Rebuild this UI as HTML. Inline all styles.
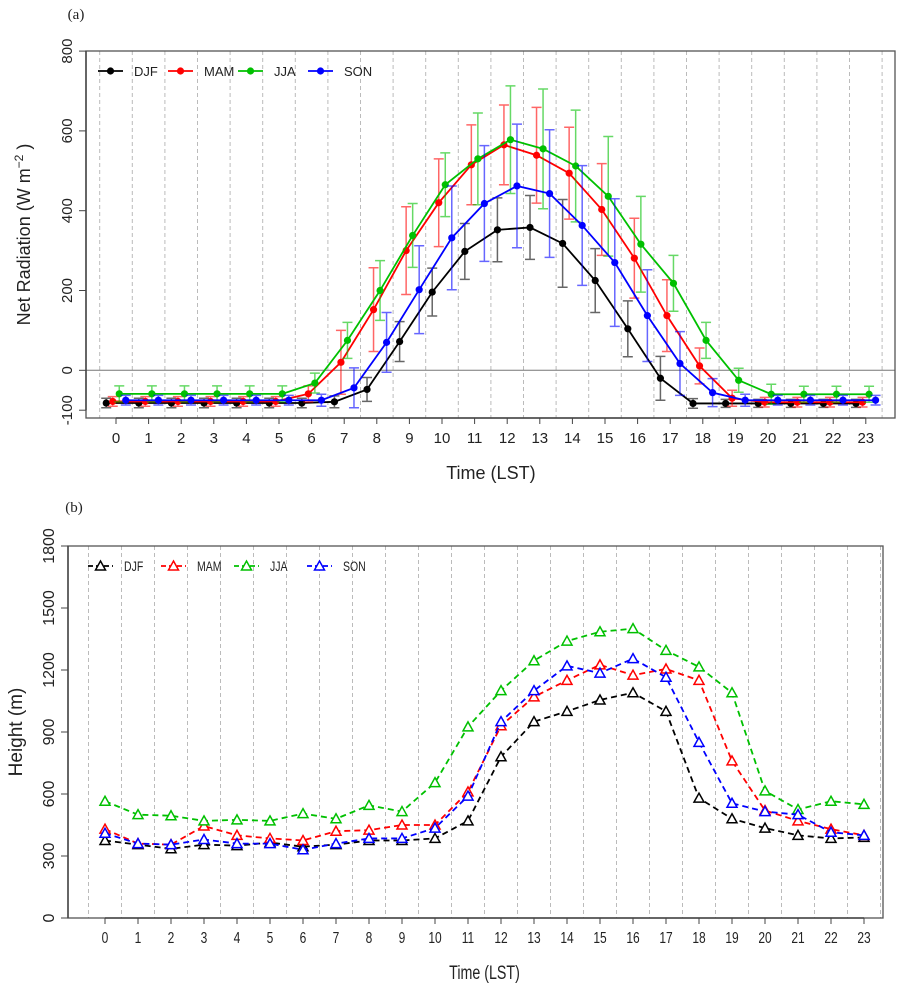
<!DOCTYPE html>
<html><head><meta charset="utf-8"><style>
body{margin:0;background:#fff;}
svg{display:block;font-family:"Liberation Sans",sans-serif;}
</style></head><body>
<svg id="c" width="906" height="993"></svg>
<script>
const hours=[0,1,2,3,4,5,6,7,8,9,10,11,12,13,14,15,16,17,18,19,20,21,22,23];
const seasons=["DJF","MAM","JJA","SON"];
const colors=["#000000","#ff0000","#00c000","#0000ff"];
const yTicksA=[-100,0,200,400,600,800];
const yTicksB=[0,300,600,900,1200,1500,1800];
const netDJF=[-82,-82,-82,-82,-82,-82,-82,-79,-48,72,196,298,352,358,318,225,104,-20,-83,-83,-83,-83,-83,-83];
const netMAM=[-78,-78,-78,-78,-78,-78,-59,20,152,300,420,515,565,539,494,403,281,137,11,-70,-80,-80,-80,-80];
const netJJA=[-59,-59,-59,-59,-59,-59,-32,75,200,338,465,530,578,555,512,436,316,218,75,-25,-60,-60,-60,-60];
const netSON=[-75,-75,-75,-75,-75,-75,-75,-44,70,202,332,418,462,443,363,270,137,17,-56,-75,-75,-75,-75,-75];
const errDJF=[12,12,12,12,12,12,12,15,30,50,60,70,80,80,110,80,70,55,12,10,10,10,10,10];
const errMAM=[12,12,12,12,12,12,20,80,105,110,110,100,100,120,115,115,100,90,45,20,12,12,12,12];
const errJJA=[20,20,20,20,20,20,25,45,75,80,80,115,135,150,140,150,120,70,45,30,25,20,20,20];
const errSON=[12,12,12,12,12,12,15,50,75,110,130,145,155,160,150,160,115,80,35,15,12,12,12,12];
const hDJF=[375,355,335,355,350,365,345,355,375,375,385,470,780,950,1000,1055,1090,1000,580,480,435,400,385,390];
const hMAM=[430,360,355,445,400,385,375,420,425,450,450,610,930,1070,1150,1225,1175,1205,1150,760,520,470,430,400];
const hJJA=[565,500,495,470,475,470,505,480,545,515,655,925,1100,1245,1340,1385,1400,1295,1215,1090,615,525,565,550];
const hSON=[410,360,355,380,360,360,330,360,385,385,435,590,950,1100,1220,1185,1255,1165,850,555,515,500,415,400];

const NS="http://www.w3.org/2000/svg";
const svg=document.getElementById('c');
function mk(tag,attrs,parent){const e=document.createElementNS(NS,tag);for(const k in attrs)e.setAttribute(k,attrs[k]);(parent||svg).appendChild(e);return e;}
function txt(s,x,y,size,parent,sx,rot,extra){
  let tr=`translate(${x},${y})`;if(rot)tr+=` rotate(${rot})`;if(sx&&sx!==1)tr+=` scale(${sx},1)`;
  const t=mk('text',Object.assign({x:0,y:0,'font-size':size,'text-anchor':'middle',fill:'#222',transform:tr},extra||{}),parent);t.textContent=s;return t;}

function panel(cfg){
  const g=mk('g',{});
  
  
  const X=h=>cfg.x0+h*cfg.dx;
  const Y=v=>cfg.yZero-(v-cfg.yMin)*cfg.ky;
  for(let i=0;i<=24;i++){const gx=X(i-0.5);const l=mk('line',{x1:gx,x2:gx,y1:cfg.top,y2:cfg.bot,stroke:'#bbb','stroke-dasharray':'4,3','stroke-width':1},g);
    }
  if(cfg.zeroLine){const z=mk('line',{x1:cfg.left,x2:cfg.right,y1:Y(0),y2:Y(0),stroke:'#777','stroke-width':1},g);
    }
  const b=mk('rect',{x:cfg.left,y:cfg.top,width:cfg.right-cfg.left,height:cfg.bot-cfg.top,fill:'none',stroke:'#555','stroke-width':1.3},g);
  
  cfg.yTicks.forEach(v=>{const y=Y(v);mk('line',{x1:cfg.left-7,x2:cfg.left,y1:y,y2:y,stroke:'#444'},g);
    const t=txt(String(v),cfg.left-14,y,cfg.tickSize,g,1,-90);
    });
  mk('line',{x1:cfg.left,x2:cfg.left,y1:Y(cfg.yTicks[0]),y2:Y(cfg.yTicks[cfg.yTicks.length-1]),stroke:'#444','stroke-width':1.5},g);
  mk('line',{x1:X(0),x2:X(23),y1:cfg.bot,y2:cfg.bot,stroke:'#444','stroke-width':1.5},g);
  hours.forEach(h=>{mk('line',{x1:X(h),x2:X(h),y1:cfg.bot,y2:cfg.bot+6,stroke:'#444'},g);
    const t=txt(String(h),X(h),cfg.bot+25,cfg.tickSize,g,cfg.sx);
    });
  const xt=txt('Time (LST)',(cfg.x0+X(23))/2,cfg.bot+61,cfg.titleSize,g,cfg.sx);
  
  const yt=mk('text',{transform:`translate(${cfg.yTitleX},${(cfg.top+cfg.bot)/2}) rotate(-90)`,'font-size':cfg.titleSize,'text-anchor':'middle',fill:'#222'},g);
  yt.innerHTML=cfg.yTitle;
  
  const pl=txt(cfg.label,cfg.labelX,cfg.labelY,15,g,1,0,{'font-family':'Liberation Serif, serif'});
  
  cfg.series.forEach((vals,si)=>{
    const sg=mk('g',{},g);
    
    
    const off=cfg.offsets[si];
    if(cfg.errs){cfg.errs[si].forEach((e,i)=>{const x=X(hours[i]+off);const y1=Y(vals[i]-e),y2=Y(vals[i]+e);
      const eb=mk('path',{d:`M${x},${y1}V${y2}M${x-5},${y1}H${x+5}M${x-5},${y2}H${x+5}`,stroke:colors[si],'stroke-opacity':0.6,'stroke-width':1.5,fill:'none'},sg);
      });}
    const d=vals.map((v,i)=>(i?'L':'M')+X(hours[i]+off)+','+Y(v)).join('');
    const ln=mk('path',{d:d,stroke:colors[si],'stroke-width':1.8,fill:'none','stroke-dasharray':cfg.dash?'6,4':'none'},sg);
    
    vals.forEach((v,i)=>{const x=X(hours[i]+off),y=Y(v);let m;
      if(cfg.dash){m=mk('path',{d:`M${x},${y-5}L${x+5},${y+4}L${x-5},${y+4}Z`,fill:'#fff',stroke:colors[si],'stroke-width':1.5},sg);}
      else{m=mk('circle',{cx:x,cy:y,r:3.6,fill:colors[si]},sg);}
      });
  });
  const lg=mk('g',{},g);
  
  seasons.forEach((s,si)=>{const lx=cfg.legX+si*cfg.legStep,ly=cfg.legY;
    const e=mk('g',{},lg);
    
    mk('line',{x1:lx,x2:lx+25,y1:ly,y2:ly,stroke:colors[si],'stroke-width':1.8,'stroke-dasharray':cfg.dash?'5,3':'none'},e);
    if(cfg.dash)mk('path',{d:`M${lx+12.5},${ly-5}L${lx+17.5},${ly+4}L${lx+7.5},${ly+4}Z`,fill:'#fff',stroke:colors[si],'stroke-width':1.5},e);
    else mk('circle',{cx:lx+12.5,cy:ly,r:3.6,fill:colors[si]},e);
    txt(s,lx+36,ly+5,cfg.legSize,e,cfg.sx,0,{'text-anchor':'start'});});
}
panel({name:'net-radiation-chart',x0:116,dx:32.6,left:86,right:895,top:51,bot:418,yZero:370.3,yMin:0,ky:0.399,
  yTicks:yTicksA,tickSize:15,titleSize:18,sx:1,zeroLine:true,yTitleX:30,yTitle:'Net Radiation (W m<tspan dy="-7" font-size="12">\u22122</tspan><tspan dy="7"> )</tspan>',
  label:'(a)',labelX:76,labelY:19,series:[netDJF,netMAM,netJJA,netSON],errs:[errDJF,errMAM,errJJA,errSON],
  offsets:[-0.3,-0.1,0.1,0.3],dash:false,legX:98,legY:71,legStep:70,legSize:13});
panel({name:'height-chart',x0:105,dx:33,left:68,right:883,top:546,bot:918,yZero:918,yMin:0,ky:372/1800,
  yTicks:yTicksB,tickSize:16,titleSize:19,sx:0.75,zeroLine:false,yTitleX:22,yTitle:'Height (m)',
  label:'(b)',labelX:74,labelY:512,series:[hDJF,hMAM,hJJA,hSON],errs:null,
  offsets:[0,0,0,0],dash:true,legX:88,legY:566,legStep:73,legSize:14});
</script>
</body></html>
